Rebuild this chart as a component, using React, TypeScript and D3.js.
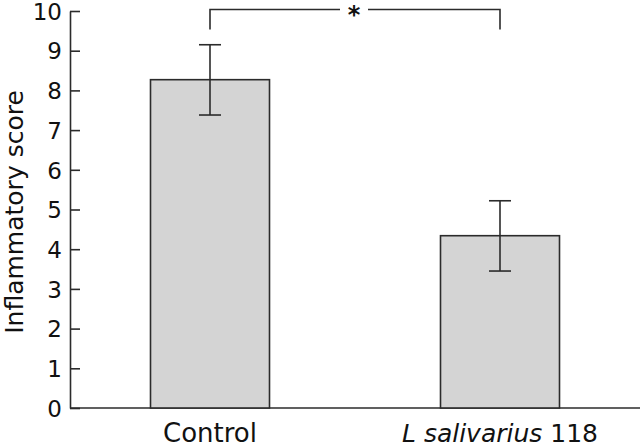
import React, { useEffect, useRef } from 'react';
import * as d3 from 'd3';

const groups = ['Control', 'L salivarius 118'];
const means = [8.27, 4.34];
const errLow = [7.38, 3.45];
const errHigh = [9.15, 5.22];
const yTicks = [0, 1, 2, 3, 4, 5, 6, 7, 8, 9, 10];

const FONT = '"DejaVu Sans", Verdana, sans-serif';

function App() {
  const ref = useRef<SVGSVGElement>(null);

  useEffect(() => {
    const svg = d3.select(ref.current);
    svg.selectAll('*').remove();

    const width = 640;
    const height = 447;
    const axisX = 70;
    const ink = '#2b2b2b';

    const y = d3.scaleLinear().domain([0, 10]).range([408, 11]);
    const x = d3.scalePoint<string>().domain(groups).range([210, 500]);
    const barW = 119;
    const capW = 22;

    // y axis
    const yAxis = d3.axisLeft(y)
      .tickValues(yTicks)
      .tickSizeInner(-10)
      .tickSizeOuter(0)
      .tickPadding(8);
    const gy = svg.append('g').attr('transform', `translate(${axisX},0)`).call(yAxis);
    gy.select('.domain').attr('stroke', ink).attr('stroke-width', 1.6);
    gy.selectAll('.tick line').attr('stroke', ink).attr('stroke-width', 1.6);
    gy.selectAll('.tick text')
      .attr('fill', '#111')
      .style('font-family', FONT)
      .style('font-size', '23px')
      .attr('dy', '0.36em');

    // x baseline
    svg.append('line')
      .attr('x1', axisX).attr('x2', width)
      .attr('y1', y(0)).attr('y2', y(0))
      .attr('stroke', ink).attr('stroke-width', 1.6);

    // bars
    svg.selectAll('rect.bar')
      .data(groups)
      .enter()
      .append('rect')
      .attr('class', 'bar')
      .attr('x', d => (x(d) as number) - barW / 2)
      .attr('y', (d, i) => y(means[i]))
      .attr('width', barW)
      .attr('height', (d, i) => y(0) - y(means[i]))
      .attr('fill', '#d4d4d4')
      .attr('stroke', ink)
      .attr('stroke-width', 1.6);

    // error bars
    const eb = svg.selectAll('g.err').data(groups).enter().append('g').attr('class', 'err');
    eb.append('line')
      .attr('x1', d => x(d) as number).attr('x2', d => x(d) as number)
      .attr('y1', (d, i) => y(errLow[i])).attr('y2', (d, i) => y(errHigh[i]))
      .attr('stroke', ink).attr('stroke-width', 1.6);
    eb.append('line')
      .attr('x1', d => (x(d) as number) - capW / 2).attr('x2', d => (x(d) as number) + capW / 2)
      .attr('y1', (d, i) => y(errHigh[i])).attr('y2', (d, i) => y(errHigh[i]))
      .attr('stroke', ink).attr('stroke-width', 1.6);
    eb.append('line')
      .attr('x1', d => (x(d) as number) - capW / 2).attr('x2', d => (x(d) as number) + capW / 2)
      .attr('y1', (d, i) => y(errLow[i])).attr('y2', (d, i) => y(errLow[i]))
      .attr('stroke', ink).attr('stroke-width', 1.6);

    // significance bracket
    const bx1 = x(groups[0]) as number;
    const bx2 = x(groups[1]) as number;
    const by = 9.5;
    const bDrop = 20;
    const mid = (bx1 + bx2) / 2 - 1;
    const gap = 14;
    svg.append('path')
      .attr('d', `M${bx1},${by + bDrop}V${by}H${mid - gap}`)
      .attr('fill', 'none').attr('stroke', ink).attr('stroke-width', 1.6);
    svg.append('path')
      .attr('d', `M${mid + gap},${by}H${bx2}V${by + bDrop}`)
      .attr('fill', 'none').attr('stroke', ink).attr('stroke-width', 1.6);
    svg.append('text')
      .attr('x', mid).attr('y', by + 13)
      .attr('text-anchor', 'middle')
      .style('font-family', FONT)
      .style('font-size', '24px')
      .style('font-weight', 'bold')
      .attr('fill', '#111')
      .text('*');

    // x labels
    const ctrl = svg.append('text')
      .attr('x', x(groups[0]) as number).attr('y', 442)
      .attr('text-anchor', 'middle')
      .style('font-family', FONT).style('font-size', '26px')
      .attr('fill', '#111');
    ctrl.text('Control');

    const sal = svg.append('text')
      .attr('x', x(groups[1]) as number).attr('y', 442)
      .attr('text-anchor', 'middle')
      .style('font-family', FONT).style('font-size', '25px')
      .attr('fill', '#111');
    sal.append('tspan').style('font-style', 'italic').text('L salivarius');
    sal.append('tspan').text(' 118');

    // y title
    svg.append('text')
      .attr('transform', `translate(23,212) rotate(-90)`)
      .attr('text-anchor', 'middle')
      .style('font-family', FONT).style('font-size', '25px')
      .attr('fill', '#111')
      .text('Inflammatory score');

    svg.attr('width', width).attr('height', height);
  }, []);

  return (
    <svg ref={ref} width={640} height={447}
      style={{ position: 'absolute', left: 0, top: 0, background: '#fff' }} />
  );
}

export default App;
